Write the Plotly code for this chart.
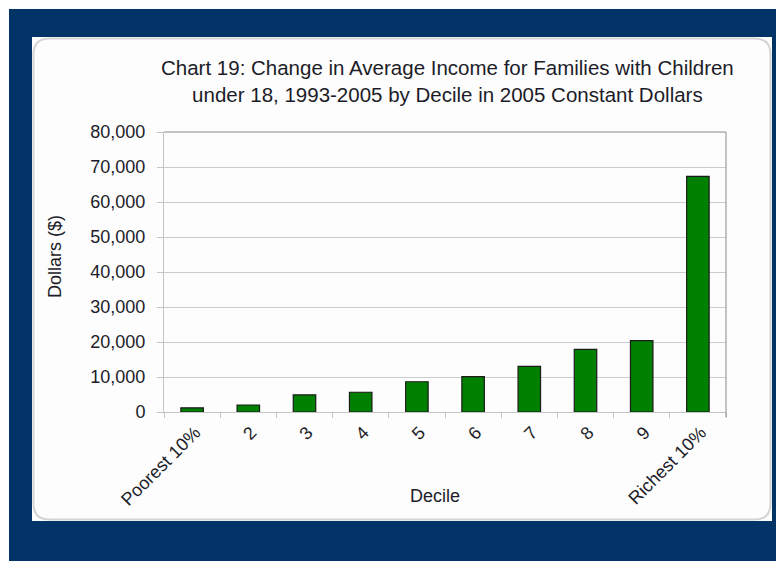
import plotly.graph_objects as go

# ---- data ----
deciles = ["Poorest 10%", "2", "3", "4", "5", "6", "7", "8", "9", "Richest 10%"]
income_change = [1200, 2000, 4900, 5650, 8650, 10100, 13050, 17900, 20400, 67300]
y_ticks = [0, 10000, 20000, 30000, 40000, 50000, 60000, 70000, 80000]
y_tick_labels = ["0", "10,000", "20,000", "30,000", "40,000", "50,000", "60,000", "70,000", "80,000"]

title_text = ("Chart 19: Change in Average Income for Families with Children<br>"
              "under 18, 1993-2005 by Decile in 2005 Constant Dollars")

# the page has an 8px body margin; lay out in reference pixels and shift
OFF = 8
W, H = 784 - OFF, 561 - OFF
L, R, T, B = 164 - OFF, 726 - OFF, 132 - OFF, 412 - OFF  # plot area in figure pixels

def xp(px):  # px in reference-image coordinates
    return (px - OFF - L) / (R - L)

def yp(py):
    return (B - (py - OFF)) / (B - T)

FONT = "Liberation Sans, Arial, sans-serif"
TXT = "#1c1c28"

fig = go.Figure()
fig.add_trace(go.Bar(
    x=deciles, y=income_change,
    marker=dict(color="#008000", line=dict(color="#1a1a1a", width=1.2)),
    hoverinfo="x+y",
))

shapes = []
# dark frame
shapes.append(dict(type="rect", xref="paper", yref="paper", layer="below",
                   x0=xp(9), x1=xp(790), y0=yp(570), y1=yp(9),
                   fillcolor="#023468", line=dict(width=0)))
# white panel
shapes.append(dict(type="rect", xref="paper", yref="paper", layer="below",
                   x0=xp(32), x1=xp(772), y0=yp(521), y1=yp(37),
                   fillcolor="#fdfdfd", line=dict(width=0)))
# rounded light border
x0, x1, y0, y1, r = 33.5, 770.5, 38.5, 519.5, 16
def P(px, py):
    return f"{xp(px):.5f},{yp(py):.5f}"
path = (f"M {P(x0 + r, y0)} L {P(x1 - r, y0)} Q {P(x1, y0)} {P(x1, y0 + r)} "
        f"L {P(x1, y1 - r)} Q {P(x1, y1)} {P(x1 - r, y1)} "
        f"L {P(x0 + r, y1)} Q {P(x0, y1)} {P(x0, y1 - r)} "
        f"L {P(x0, y0 + r)} Q {P(x0, y0)} {P(x0 + r, y0)} Z")
shapes.append(dict(type="path", xref="paper", yref="paper", layer="below",
                   path=path, line=dict(color="#d4d4d4", width=2)))
# darker top and right plot borders
shapes.append(dict(type="line", xref="paper", yref="paper", layer="above",
                   x0=0, x1=1, y0=1, y1=1, line=dict(color="#8a8a8a", width=1)))
shapes.append(dict(type="line", xref="paper", yref="paper", layer="above",
                   x0=1, x1=1, y0=yp(417), y1=1, line=dict(color="#8a8a8a", width=1)))

annotations = [
    dict(text=title_text, xref="paper", yref="paper", x=xp(447), y=yp(54),
         xanchor="center", yanchor="top", showarrow=False,
         font=dict(family=FONT, size=20.5, color=TXT), align="center"),
    dict(text="Dollars ($)", xref="paper", yref="paper", x=xp(55), y=yp(257),
         xanchor="center", yanchor="middle", showarrow=False, textangle=-90,
         font=dict(family=FONT, size=18, color=TXT)),
    dict(text="Decile", xref="paper", yref="paper", x=xp(435), y=yp(496),
         xanchor="center", yanchor="middle", showarrow=False,
         font=dict(family=FONT, size=18, color=TXT)),
]

fig.update_layout(
    width=W, height=H,
    margin=dict(l=L, r=W - R, t=T, b=H - B, pad=0),
    paper_bgcolor="white",
    plot_bgcolor="rgba(0,0,0,0)",
    bargap=0.6,
    showlegend=False,
    shapes=shapes,
    annotations=annotations,
    font=dict(family=FONT, size=18, color=TXT),
    xaxis=dict(
        type="category",
        tickangle=-45,
        tickson="boundaries",
        ticks="outside", ticklen=5, tickcolor="#c4c4c4",
        showline=True, linecolor="#c4c4c4", linewidth=1,
        showgrid=False,
        tickfont=dict(family=FONT, size=18, color=TXT),
        ticklabelshift=3,
        ticklabelstandoff=2,
    ),
    yaxis=dict(
        range=[0, 80000],
        tickmode="array", tickvals=y_ticks, ticktext=y_tick_labels,
        ticks="outside", ticklen=6, tickcolor="#c4c4c4",
        showline=True, linecolor="#c4c4c4", linewidth=1,
        showgrid=True, gridcolor="#cccccc", gridwidth=1,
        zeroline=False,
        tickfont=dict(family=FONT, size=18, color=TXT),
        ticklabelstandoff=8,
    ),
)

fig.write_html("out.html")
